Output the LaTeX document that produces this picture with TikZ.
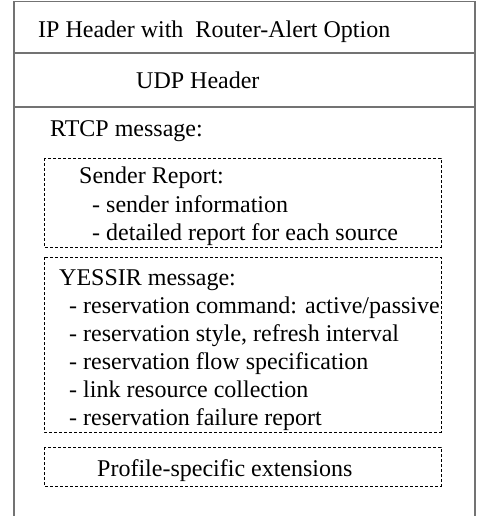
\documentclass[tikz,border=0pt]{standalone}
\usepackage{fontspec}
\setmainfont{Liberation Serif}
\usepackage{tikz}

\tikzset{
  txt/.style={anchor=base west,inner sep=0pt,font=\fontsize{24}{28}\selectfont},
  item/.style={txt,align=left},
  dashbox/.style={black,thin,dash pattern=on 3pt off 2pt}
}

\begin{document}
\begin{tikzpicture}[x=1pt,y=-1pt]
\useasboundingbox (0,0) rectangle (478,516);
% outer frame, open at the bottom
\draw[gray!90!black,line width=1.5pt] (14,516) -- (14,1.5) -- (475,1.5) -- (475,516);
\draw[gray!90!black,line width=1.5pt] (14,53) -- (475,53)
      (14,107) -- (475,107);
\node[txt] (iphdr) at (38,37.5) {IP Header with\ \ Router-Alert Option};
\node[txt] (udphdr) at (136,88.5) {UDP Header};
\node[txt] (rtcp) at (50,136) {RTCP message:};
% inner blocks
\draw[dashbox] (44,158) rectangle (441,247);
\draw[dashbox] (44,257) rectangle (441,432);
\draw[dashbox] (44,447) rectangle (441,486);
\node[txt] (sr) at (79,183) {Sender Report:};
% base of a multi-line node is its last line
\node[item] (sritems) at (92,240) {- sender information\\- detailed report for each source};
\node[txt] (yessir) at (59,285) {YESSIR message:};
\node[item] (yessiritems) at (69,425) {- reservation command: active/passive\\
  - reservation style, refresh interval\\- reservation flow specification\\
  - link resource collection\\- reservation failure report};
\node[txt] (profile) at (97,476) {Profile-specific extensions};

\end{tikzpicture}
\end{document}
